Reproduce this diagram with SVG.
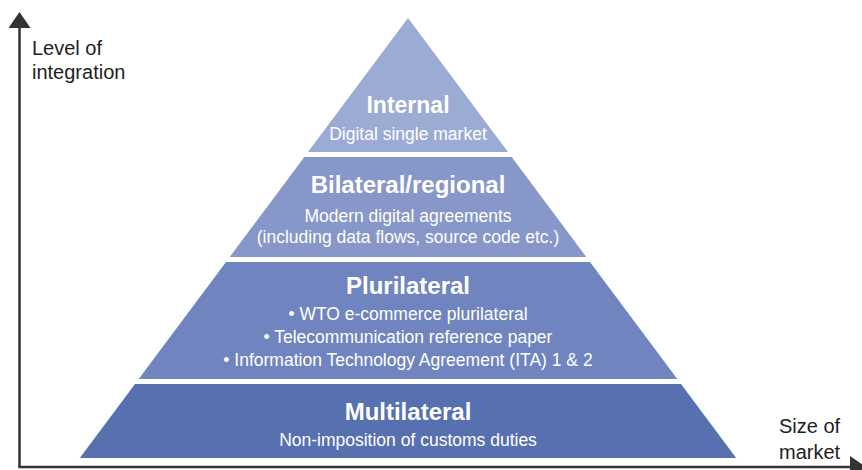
<svg xmlns="http://www.w3.org/2000/svg" width="862" height="470" viewBox="0 0 862 470">
  <style>
    .head { font-family: "Liberation Sans", Arial, sans-serif; font-weight: bold; font-size: 24px; fill: #ffffff; text-anchor: middle; }
    .body { font-family: "Liberation Sans", Arial, sans-serif; font-size: 17.5px; fill: #ffffff; text-anchor: middle; }
    .axis-label { font-family: "Liberation Sans", Arial, sans-serif; font-size: 20px; fill: #1e1e1e; }
    .axis { stroke: #333333; stroke-width: 2.5; fill: none; }
  </style>
  <defs>
    <marker id="arrow" viewBox="0 0 16 22" refX="2" refY="11" markerWidth="16" markerHeight="22" markerUnits="userSpaceOnUse" orient="auto">
      <path d="M0,0 L16,11 L0,22 Z" fill="#333333"/>
    </marker>
  </defs>

  <!-- axes -->
  <g id="connectors">
    <path class="axis" d="M19.5,467 L19.5,26" marker-end="url(#arrow)"/>
    <path class="axis" d="M18.3,467 L852,467" marker-end="url(#arrow)"/>
  </g>

  <!-- axis labels -->
  <g id="y-axis-label">
    <text class="axis-label" x="32" y="55">Level of</text>
    <text class="axis-label" x="32" y="79">integration</text>
  </g>
  <g id="x-axis-label">
    <text class="axis-label" x="779" y="433">Size of</text>
    <text class="axis-label" x="779" y="459">market</text>
  </g>

  <!-- pyramid tiers, top to bottom -->
  <g id="internal">
    <polygon points="408,18 508,152 308,152" fill="#9cabd3"/>
    <text class="head" x="408" y="113" style="font-size:23px">Internal</text>
    <text class="body" x="408" y="140">Digital single market</text>
  </g>
  <g id="bilateral">
    <polygon points="304.3,157 511.7,157 586.3,257 229.7,257" fill="#8797c9"/>
    <text class="head" x="408" y="193">Bilateral/regional</text>
    <text class="body" x="408" y="222">Modern digital agreements</text>
    <text class="body" x="408" y="243">(including data flows, source code etc.)</text>
  </g>
  <g id="plurilateral">
    <polygon points="226,262 590,262 677.3,379 138.7,379" fill="#7085bf"/>
    <text class="head" x="408" y="294">Plurilateral</text>
    <text class="body" x="408" y="320">• WTO e-commerce plurilateral</text>
    <text class="body" x="408" y="343">• Telecommunication reference paper</text>
    <text class="body" x="408" y="366">• Information Technology Agreement (ITA) 1 &amp; 2</text>
  </g>
  <g id="multilateral">
    <polygon points="135,384 681,384 736.2,458 79.8,458" fill="#5771b0"/>
    <text class="head" x="408" y="420">Multilateral</text>
    <text class="body" x="408" y="446">Non-imposition of customs duties</text>
  </g>
</svg>
